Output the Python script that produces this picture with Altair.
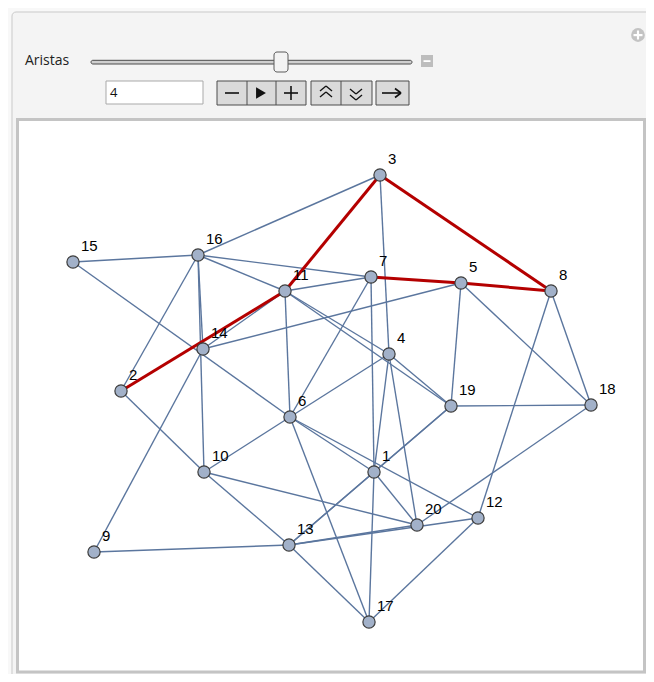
import altair as alt
import pandas as pd

# ---------------- data ----------------
node_ids = list(range(1, 21))
node_x = [374, 121, 380, 389, 461, 290, 371, 551, 94, 204, 285, 478, 289, 203, 73, 198, 369, 591, 451, 417]
node_y = [472, 391, 175, 354, 283, 417, 277, 291, 552, 472, 291, 518, 545, 349, 262, 255, 622, 405, 406, 525]

blue_edges = [
    (3, 16), (3, 4), (15, 16), (15, 6), (16, 11), (16, 7), (16, 14), (16, 10), (16, 2),
    (11, 7), (11, 6), (11, 14), (11, 4), (11, 19), (7, 6), (7, 1),
    (5, 14), (5, 19), (5, 18), (8, 18), (8, 12), (18, 19), (18, 20),
    (19, 4), (19, 13), (19, 1), (4, 6), (4, 1), (4, 20),
    (6, 10), (6, 17), (6, 1), (6, 12), (10, 2), (10, 13), (10, 20),
    (9, 13), (9, 14), (13, 17), (13, 20), (13, 12), (13, 1),
    (12, 17), (1, 17), (1, 20),
]
red_edges = [(2, 11), (11, 3), (3, 8), (8, 5), (5, 7)]

slider_label = "Aristas"
slider_value = "4"

# ---------------- geometry helpers ----------------
W, H = 638, 666
OFF = 8  # page margin
xs = alt.Scale(domain=[OFF, OFF + W], range=[0, W], nice=False, zero=False)
ys = alt.Scale(domain=[OFF, OFF + H], range=[0, H], nice=False, zero=False)

nodes = pd.DataFrame({"id": node_ids, "x": node_x, "y": node_y})
nodes["label"] = nodes["id"].astype(str)
pos = {i: (x, y) for i, x, y in zip(node_ids, node_x, node_y)}


def edge_df(edges):
    return pd.DataFrame(
        [{"x1": pos[a][0], "y1": pos[a][1], "x2": pos[b][0], "y2": pos[b][1]} for a, b in edges]
    )


one = pd.DataFrame({"d": [0]})


def v(p):
    return alt.value(p - OFF)


def rect(x0, y0, x1, y1, **kw):
    return alt.Chart(one).mark_rect(**kw).encode(x=v(x0), x2=v(x1), y=v(y0), y2=v(y1))


def txt(x, y, s, **kw):
    return alt.Chart(one).mark_text(text=s, **kw).encode(x=v(x), y=v(y))


def seg(x0, y0, x1, y1, **kw):
    return alt.Chart(one).mark_rule(**kw).encode(x=v(x0), x2=v(x1), y=v(y0), y2=v(y1))


# ---------------- UI decorations ----------------
deco = [
    rect(12, 12, 700, 720, fill="#f4f4f4", stroke="#c9c9c9", strokeWidth=1, cornerRadius=4),
    # plus icon
    alt.Chart(one).mark_point(shape="circle", filled=True, color="#c3c3c3", size=190, opacity=1).encode(x=v(638), y=v(35)),
    rect(633.5, 34, 642.5, 36.2, fill="white"),
    rect(636.9, 30.5, 639.1, 39.5, fill="white"),
    txt(25, 61, slider_label, align="left", baseline="middle", font="Open Sans", fontSize=14, color="#222222"),
    # slider track
    rect(91, 60.3, 412, 64, fill="#cfcfcf", stroke="#4a4a4a", strokeWidth=1, cornerRadius=2),
    rect(274, 52, 288, 72, fill="#f3f3f3", stroke="#5a5a5a", strokeWidth=1, cornerRadius=3),
    # minus box
    rect(421, 55, 433, 67, fill="#bdbdbd"),
    rect(423.5, 60.2, 430.5, 62, fill="white"),
    # input box
    rect(106, 81, 203, 104, fill="white", stroke="#a9a9a9", strokeWidth=1),
    txt(110, 93, slider_value, align="left", baseline="middle", font="Open Sans", fontSize=13, color="#111111"),
    # buttons group 1
    rect(217, 81, 306, 105, fill="#dadada", stroke="#4d4d4d", strokeWidth=1),
    seg(247, 81, 247, 105, color="#4d4d4d", strokeWidth=1),
    seg(276, 81, 276, 105, color="#4d4d4d", strokeWidth=1),
    seg(225, 93, 239, 93, color="#111111", strokeWidth=1.6),
    alt.Chart(one).mark_point(shape="triangle-right", filled=True, color="#111111", size=130, opacity=1).encode(x=v(261), y=v(93)),
    seg(284, 93, 298, 93, color="#111111", strokeWidth=1.6),
    seg(291, 86, 291, 100, color="#111111", strokeWidth=1.6),
    # buttons group 2
    rect(311, 81, 372, 105, fill="#dadada", stroke="#4d4d4d", strokeWidth=1),
    seg(341, 81, 341, 105, color="#4d4d4d", strokeWidth=1),
    seg(320, 91, 326, 86, color="#111111", strokeWidth=1.3),
    seg(326, 86, 332, 91, color="#111111", strokeWidth=1.3),
    seg(320, 97, 326, 92, color="#111111", strokeWidth=1.3),
    seg(326, 92, 332, 97, color="#111111", strokeWidth=1.3),
    seg(350, 89, 356, 94, color="#111111", strokeWidth=1.3),
    seg(356, 94, 362, 89, color="#111111", strokeWidth=1.3),
    seg(350, 95, 356, 100, color="#111111", strokeWidth=1.3),
    seg(356, 100, 362, 95, color="#111111", strokeWidth=1.3),
    # buttons group 3
    rect(376, 81, 409, 105, fill="#dadada", stroke="#4d4d4d", strokeWidth=1),
    seg(382, 93, 400, 93, color="#111111", strokeWidth=1.6),
    seg(395, 88.5, 401, 93, color="#111111", strokeWidth=1.6),
    seg(395, 97.5, 401, 93, color="#111111", strokeWidth=1.6),
    # inner plot panel
    rect(17.5, 119.5, 644.5, 672, fill="white", stroke="#c4c4c4", strokeWidth=3),
]

# ---------------- graph ----------------
blue = alt.Chart(edge_df(blue_edges)).mark_rule(color="#5b769e", strokeWidth=1.4).encode(
    x=alt.X("x1:Q", scale=xs, axis=None), y=alt.Y("y1:Q", scale=ys, axis=None),
    x2="x2:Q", y2="y2:Q",
)
red = alt.Chart(edge_df(red_edges)).mark_rule(color="#b40000", strokeWidth=3).encode(
    x=alt.X("x1:Q", scale=xs, axis=None), y=alt.Y("y1:Q", scale=ys, axis=None),
    x2="x2:Q", y2="y2:Q",
)
pts = alt.Chart(nodes).mark_point(
    shape="circle", filled=True, fill="#a2b1c9", stroke="#3c3c3c", strokeWidth=1.2, size=150, opacity=1
).encode(x=alt.X("x:Q", scale=xs, axis=None), y=alt.Y("y:Q", scale=ys, axis=None))
labels = alt.Chart(nodes).mark_text(
    align="left", baseline="alphabetic", dx=8, dy=-11, font="Liberation Sans", fontSize=15, color="#000000"
).encode(x=alt.X("x:Q", scale=xs, axis=None), y=alt.Y("y:Q", scale=ys, axis=None), text="label:N")

chart = alt.layer(*deco, blue, red, pts, labels).properties(
    width=W, height=H, autosize=alt.AutoSizeParams(type="none"), padding=0, background="#f8f8f8"
).configure_view(stroke=None)

chart.save("out.html", embed_options={"renderer": "svg", "actions": False})
